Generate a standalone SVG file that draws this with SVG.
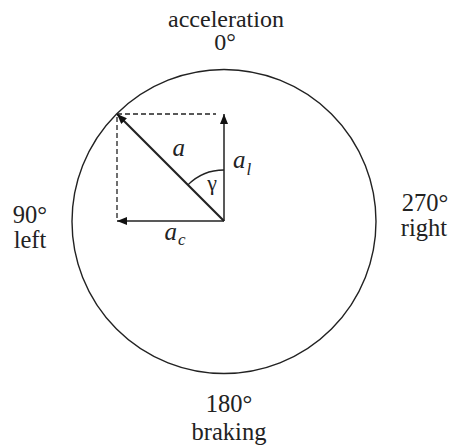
<svg xmlns="http://www.w3.org/2000/svg" width="450" height="446" viewBox="0 0 450 446">
<defs>
<style>
text{font-family:"Liberation Serif","DejaVu Serif",serif;fill:#222;}
.ln{stroke:#222;fill:none;}
</style>
<marker id="ah" viewBox="0 0 10 8" refX="10" refY="4" markerWidth="10" markerHeight="8" markerUnits="userSpaceOnUse" orient="auto">
<path d="M0,0 L10,4 L0,8 Z" fill="#111"/>
</marker>
</defs>
<rect width="450" height="446" fill="#fff"/>
<g id="circle"><circle class="ln" cx="224" cy="221.5" r="152" stroke-width="1.4"/></g>
<g id="connectors">
<line class="ln" x1="117" y1="114" x2="216" y2="114" stroke-width="1.3" stroke-dasharray="5,3"/>
<line class="ln" x1="117" y1="117" x2="117" y2="221" stroke-width="1.3" stroke-dasharray="5,3"/>
<line class="ln" x1="224" y1="221" x2="224" y2="114" stroke-width="1.5" marker-end="url(#ah)"/>
<line class="ln" x1="224" y1="221" x2="117" y2="221" stroke-width="1.5" marker-end="url(#ah)"/>
<line class="ln" x1="224" y1="221" x2="117" y2="114" stroke-width="2.2" marker-end="url(#ah)"/>
<path class="ln" d="M224,170 A51,51 0 0 0 187.9,184.9" stroke-width="1.3"/>
</g>
<g id="top-label"><text font-size="24" x="226" y="27" text-anchor="middle">acceleration</text><text font-size="24" x="225" y="50" text-anchor="middle">0°</text></g>
<g id="left-label"><text font-size="24.5" x="30" y="223" text-anchor="middle">90°</text><text font-size="24.5" x="30" y="248" text-anchor="middle">left</text></g>
<g id="right-label"><text font-size="24.5" x="425" y="211" text-anchor="middle">270°</text><text font-size="24.5" x="424" y="236" text-anchor="middle">right</text></g>
<g id="bottom-label"><text font-size="24.5" x="229" y="411.5" text-anchor="middle">180°</text><text font-size="24.5" x="229" y="440" text-anchor="middle">braking</text></g>
<g id="vec-labels">
<text font-style="italic" x="172.5" y="156" font-size="25">a</text>
<text font-style="italic" x="233" y="168" font-size="25">a</text><text font-style="italic" x="246.5" y="175" font-size="17">l</text>
<text font-style="italic" x="164.5" y="240" font-size="25">a</text><text font-style="italic" x="178" y="245" font-size="17">c</text>
<text x="212" y="190" text-anchor="middle" font-size="22">γ</text>
</g>
</svg>
